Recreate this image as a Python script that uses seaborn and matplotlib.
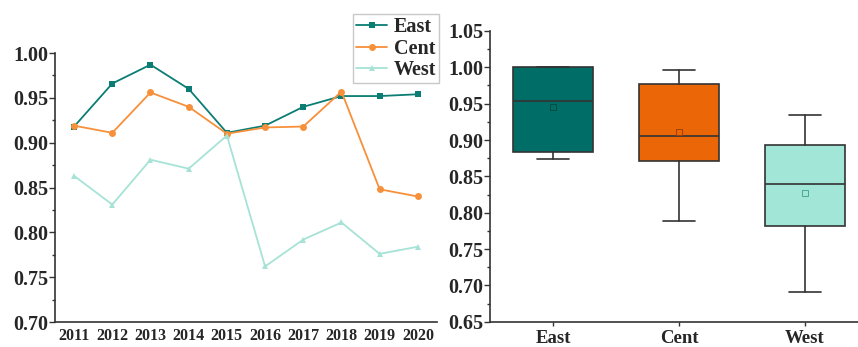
import numpy as np
import pandas as pd
import matplotlib
matplotlib.use("Agg")
import matplotlib.pyplot as plt
from matplotlib.ticker import MultipleLocator
import seaborn as sns

# Yearly efficiency by region
years = [2011, 2012, 2013, 2014, 2015, 2016, 2017, 2018, 2019, 2020]
east = [0.918, 0.966, 0.987, 0.960, 0.911, 0.919, 0.940, 0.952, 0.952, 0.954]
cent = [0.919, 0.911, 0.956, 0.940, 0.910, 0.917, 0.918, 0.957, 0.848, 0.840]
west = [0.863, 0.831, 0.881, 0.871, 0.908, 0.762, 0.792, 0.811, 0.776, 0.784]

# Box summary per region
regions = ["East", "Cent", "West"]
whislo = [0.874, 0.789, 0.691]
q1 = [0.884, 0.871, 0.781]
med = [0.954, 0.905, 0.840]
q3 = [1.000, 0.977, 0.893]
whishi = [1.000, 0.996, 0.934]
means = [0.946, 0.911, 0.827]

line_colors = {"East": "#0b7d74", "Cent": "#f7903a", "West": "#a6e3d6"}
box_colors = ["#006d66", "#ea6606", "#a2e6d8"]
mean_edge = ["#004a44", "#a04004", "#4aa898"]

sns.set_theme(style="white")
plt.rcParams["font.family"] = ["Liberation Serif", "DejaVu Serif"]
plt.rcParams["font.weight"] = "bold"

fig = plt.figure(figsize=(8.58, 3.47), dpi=100)
ax1 = fig.add_axes([0.0641, 0.0720, 0.4452, 0.7752])
ax2 = fig.add_axes([0.5711, 0.0729, 0.4289, 0.8378])

df = pd.DataFrame({
    "Year": years * 3,
    "Value": east + cent + west,
    "Region": ["East"] * len(years) + ["Cent"] * len(years) + ["West"] * len(years),
})
sns.lineplot(data=df, x="Year", y="Value", hue="Region", style="Region",
             hue_order=regions, style_order=regions,
             palette=line_colors, markers={"East": "s", "Cent": "o", "West": "^"},
             dashes=False, markersize=5, linewidth=1.3, markeredgewidth=0,
             ax=ax1, legend=True)

ax1.set_xlim(2010.5, 2020.5)
ax1.set_ylim(0.70, 1.00)
ax1.set_xticks(years)
ax1.set_xticklabels([str(y) for y in years], fontsize=11.5, fontweight="bold")
ax1.yaxis.set_major_locator(MultipleLocator(0.05))
ax1.yaxis.set_minor_locator(MultipleLocator(0.025))
ax1.set_yticklabels([f"{v:.2f}" for v in ax1.get_yticks()], fontsize=14.5, fontweight="bold")
ax1.set_xlabel("")
ax1.set_ylabel("")
ax1.tick_params(axis="y", which="major", direction="out", length=4, width=1, color="#333333", left=True, pad=1)
ax1.tick_params(axis="y", which="minor", direction="out", length=2.5, width=1, color="#333333", left=True)
ax1.tick_params(axis="x", length=0, pad=4)
for s in ["top", "right"]:
    ax1.spines[s].set_visible(False)
for s in ["left", "bottom"]:
    ax1.spines[s].set_color("#333333")
    ax1.spines[s].set_linewidth(1.2)

handles, labels = ax1.get_legend_handles_labels()
ax1.legend(handles, labels, loc="upper right", bbox_to_anchor=(0.5117, 0.9597),
           bbox_transform=fig.transFigure, frameon=True, fancybox=False,
           edgecolor="#bbbbbb", prop={"family": "Liberation Serif", "weight": "bold", "size": 14.5},
           handlelength=1.55, handletextpad=0.3, labelspacing=0.08, borderpad=0.15,
           borderaxespad=0)

stats = []
for i, r in enumerate(regions):
    stats.append({"label": r, "whislo": whislo[i], "q1": q1[i], "med": med[i],
                  "q3": q3[i], "whishi": whishi[i], "mean": means[i], "fliers": []})
bp = ax2.bxp(stats, positions=[0, 1, 2], widths=0.64, patch_artist=True,
             showmeans=True, showfliers=False,
             boxprops={"linewidth": 1.2, "edgecolor": "#333333"},
             medianprops={"color": "#333333", "linewidth": 1.2},
             whiskerprops={"color": "#333333", "linewidth": 1.2},
             capprops={"color": "#333333", "linewidth": 1.2},
             capwidths=0.25,
             meanprops={"marker": "s", "markersize": 4, "markerfacecolor": "none",
                        "markeredgewidth": 0.7})
for patch, c in zip(bp["boxes"], box_colors):
    patch.set_facecolor(c)
for m, c in zip(bp["means"], mean_edge):
    m.set_markeredgecolor(c)

ax2.set_xlim(-0.5, 2.42)
ax2.set_ylim(0.65, 1.05)
ax2.set_xticks([0, 1, 2])
ax2.set_xticklabels(regions, fontsize=13.5, fontweight="bold")
ax2.yaxis.set_major_locator(MultipleLocator(0.05))
ax2.yaxis.set_minor_locator(MultipleLocator(0.025))
ax2.set_yticklabels([f"{v:.2f}" for v in ax2.get_yticks()], fontsize=14.5, fontweight="bold")
ax2.tick_params(axis="y", which="major", direction="out", length=4, width=1, color="#333333", left=True, pad=1)
ax2.tick_params(axis="y", which="minor", direction="out", length=2.5, width=1, color="#333333", left=True)
ax2.tick_params(axis="x", direction="out", length=3, width=1, color="#333333", bottom=True, pad=3)
for s in ["top", "right"]:
    ax2.spines[s].set_visible(False)
for s in ["left", "bottom"]:
    ax2.spines[s].set_color("#333333")
    ax2.spines[s].set_linewidth(1.2)

fig.savefig("out.png", dpi=100)
